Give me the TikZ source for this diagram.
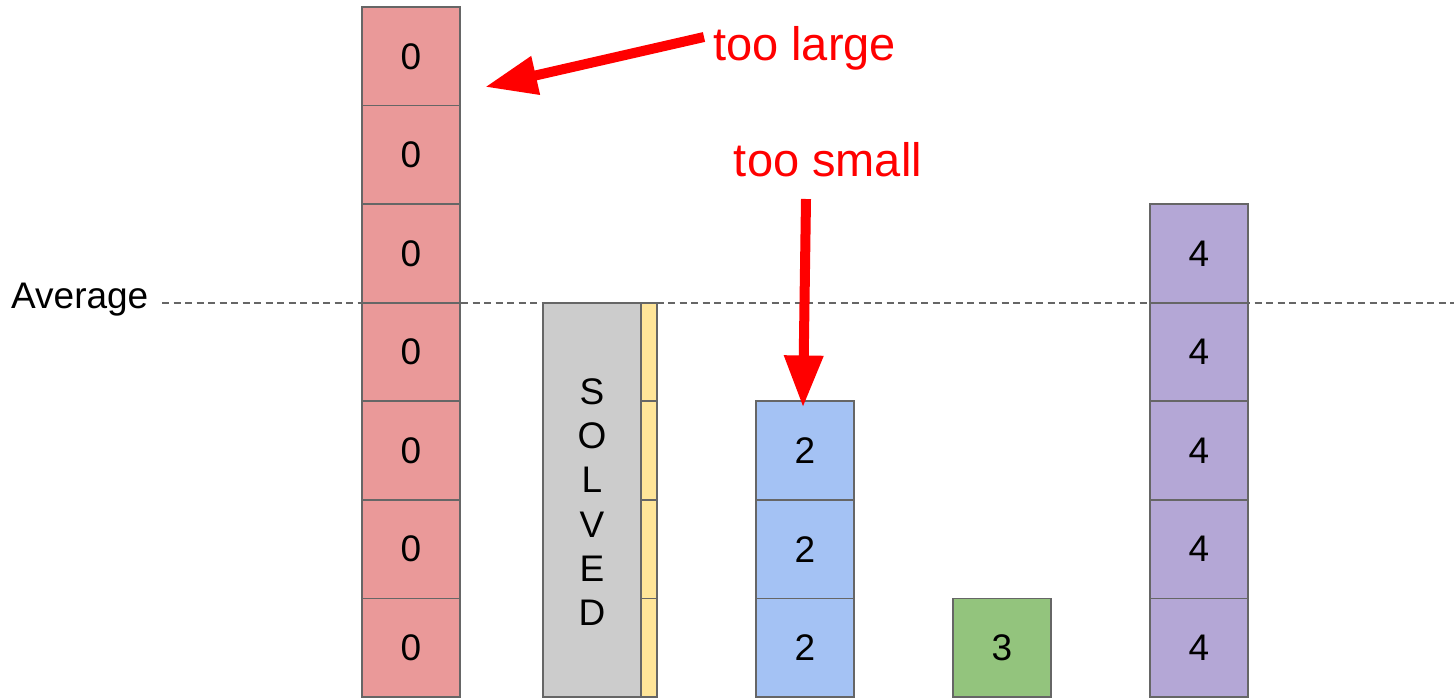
\documentclass[tikz,border=0pt]{standalone}
\usepackage{fontspec}
\setmainfont{Liberation Sans}
\usetikzlibrary{arrows.meta}
\definecolor{cellred}{HTML}{EA9999}
\definecolor{cellgray}{HTML}{CCCCCC}
\definecolor{cellyellow}{HTML}{FFE599}
\definecolor{cellblue}{HTML}{A4C2F4}
\definecolor{cellgreen}{HTML}{93C47D}
\definecolor{cellpurple}{HTML}{B4A7D6}
\definecolor{edge}{HTML}{666666}
\definecolor{note}{HTML}{FF0000}
\tikzset{
  cell/.style={draw=edge, line width=1.6pt, minimum width=98pt, minimum height=98.57pt,
               inner sep=0pt, font=\fontsize{37}{44}\selectfont},
  strip/.style={cell, minimum width=16pt},
  pointer/.style={draw=note, line width=10pt, -{Triangle[length=52pt,width=37pt]}},
  notetext/.style={text=note, font=\fontsize{47}{52}\selectfont, inner sep=0pt},
}
\begin{document}
\begin{tikzpicture}[x=1pt, y=-1pt]
\useasboundingbox (0,0) rectangle (1454,697);

% average level
\node[anchor=west, inner sep=0pt, font=\fontsize{37}{44}\selectfont] (avg) at (11,300) {Average};
\coordinate (avgR) at (1454,303);
\draw[edge, line width=1.5pt, dash pattern=on 7pt off 4.5pt] (162,303) -- (avgR);

% column 0
\foreach \i in {1,...,7} {
  \node[cell, fill=cellred] (r\i) at (411, {7+98.57*(\i-0.5)}) {0};
}

% solved column with its strip
\node[cell, fill=cellgray, minimum height=394pt] (solved) at (592,500) {};
\node[align=center, inner sep=0pt, font=\fontsize{37}{44.3}\selectfont] (solvedtxt) at (592,502) {S\\O\\L\\V\\E\\D};
\foreach \i in {4,...,7} {
  \node[strip, fill=cellyellow] (y\i) at (649, {7+98.57*(\i-0.5)}) {};
}

% column 2
\foreach \i in {5,...,7} {
  \node[cell, fill=cellblue] (b\i) at (805, {7+98.57*(\i-0.5)}) {2};
}

% column 3
\node[cell, fill=cellgreen] (g7) at (1002, {7+98.57*6.5}) {3};

% column 4
\foreach \i in {3,...,7} {
  \node[cell, fill=cellpurple] (p\i) at (1199, {7+98.57*(\i-0.5)}) {4};
}

% annotations
\node[notetext, anchor=base west] (large) at (713,60) {too large};
\node[notetext, anchor=base] (small) at (828,176) {too small};
\coordinate (largeTip) at (485,87);
\coordinate (largeTail) at (704,37);
\draw[pointer] (largeTail) -- (largeTip);
\coordinate (smallTail) at (806,199);
\draw[pointer] (smallTail) -- ([yshift=-7pt]b5.north -| 803,0);
\end{tikzpicture}
\end{document}
